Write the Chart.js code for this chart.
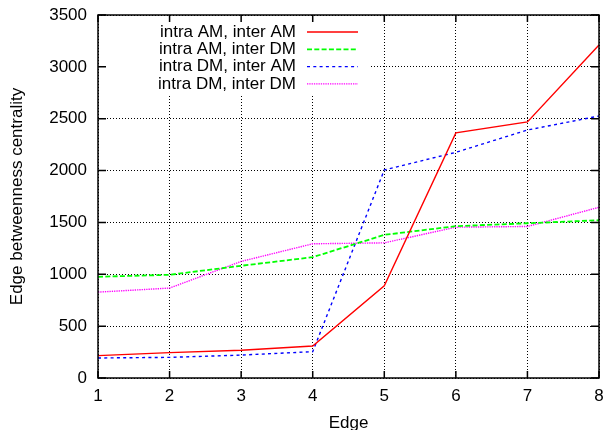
<!DOCTYPE html>
<html>
<head>
<meta charset="utf-8">
<script src="https://cdn.jsdelivr.net/npm/chart.js@4.4.1/dist/chart.umd.min.js"></script>
<style>
  html, body { margin: 0; padding: 0; background: #fff; }
  #wrap { width: 606px; height: 430px; }
</style>
</head>
<body>
<div id="wrap"><canvas id="chart" width="606" height="430"></canvas></div>
<script>
// values
const edges = ["1", "2", "3", "4", "5", "6", "7", "8"];
const seriesNames = ["intra AM, inter AM", "intra AM, inter DM", "intra DM, inter AM", "intra DM, inter DM"];
const amAm = [216, 245, 267, 308, 890, 2363, 2469, 3210];
const amDm = [976, 995, 1082, 1165, 1380, 1464, 1492, 1521];
const dmAm = [193, 199, 221, 254, 2006, 2176, 2391, 2526];
const dmDm = [828, 867, 1124, 1294, 1303, 1454, 1461, 1646];
const yTicks = [0, 500, 1000, 1500, 2000, 2500, 3000, 3500];

const colors = ["#ff0000", "#00ff00", "#0000ff", "#ff00ff"];
const dashes = [[], [5, 2.3], [3, 3.3], [1.3, 1]];
const widths = [1.4, 1.8, 1.4, 1.4];
const FONT = "Liberation Sans, Arial, Helvetica, sans-serif";

// gnuplot-like frame, inward ticks and the key drawn in the upper left
const gnuplotLook = {
  id: "gnuplotLook",
  beforeDatasetsDraw(chart) {
    const { ctx, chartArea: a } = chart;
    // key background hides the grid behind it
    ctx.save();
    ctx.fillStyle = "#fff";
    ctx.fillRect(a.left + 1, a.top + 1, 368 - a.left, 93 - a.top);
    ctx.restore();
  },
  afterDatasetsDraw(chart) {
    const { ctx, chartArea: a, scales } = chart;
    ctx.save();
    ctx.strokeStyle = "#000";
    ctx.lineWidth = 1.5;
    ctx.beginPath();
    edges.forEach((e, i) => {
      const x = scales.x.getPixelForValue(i);
      ctx.moveTo(x, a.bottom); ctx.lineTo(x, a.bottom - 7);
      ctx.moveTo(x, a.top); ctx.lineTo(x, a.top + 7);
    });
    yTicks.forEach(v => {
      const y = scales.y.getPixelForValue(v);
      ctx.moveTo(a.left, y); ctx.lineTo(a.left + 8, y);
      ctx.moveTo(a.right, y); ctx.lineTo(a.right - 8, y);
    });
    ctx.stroke();
    ctx.strokeRect(a.left, a.top, a.right - a.left, a.bottom - a.top);

    // key
    ctx.font = "17px " + FONT;
    ctx.textAlign = "right";
    ctx.textBaseline = "middle";
    chart.data.datasets.forEach((ds, i) => {
      const y = 32 + i * 17.3;
      ctx.fillStyle = "#000";
      ctx.fillText(ds.label, 296, y);
      ctx.strokeStyle = ds.borderColor;
      ctx.lineWidth = ds.borderWidth;
      ctx.setLineDash(ds.borderDash);
      ctx.beginPath();
      ctx.moveTo(307, y); ctx.lineTo(358, y);
      ctx.stroke();
    });
    ctx.restore();
  }
};

const allSeries = [amAm, amDm, dmAm, dmDm];

new Chart(document.getElementById("chart"), {
  type: "line",
  data: {
    labels: edges,
    datasets: allSeries.map((vals, i) => ({
      label: seriesNames[i],
      data: vals,
      borderColor: colors[i],
      borderWidth: widths[i],
      borderDash: dashes[i],
      pointRadius: 0,
      fill: false,
      tension: 0
    }))
  },
  options: {
    responsive: false,
    animation: false,
    layout: { padding: { top: 15, right: 7, left: 0, bottom: 0 } },
    plugins: { legend: { display: false }, tooltip: { enabled: false } },
    scales: {
      x: {
        offset: false,
        afterFit: s => { s.height = 52; s.paddingLeft = 0; s.paddingRight = 0; },
        grid: { color: "#000", lineWidth: 1, drawTicks: false },
        border: { display: false, dash: [1, 2] },
        ticks: { color: "#000", font: { family: FONT, size: 17 }, padding: 8, maxRotation: 0 },
        title: { display: true, text: "Edge", color: "#000",
                 font: { family: FONT, size: 17, lineHeight: 0.8 }, padding: 0 }
      },
      y: {
        min: 0, max: 3500,
        afterFit: s => { s.width = 98; s.paddingTop = 0; s.paddingBottom = 0; },
        afterBuildTicks: s => { s.ticks = yTicks.map(v => ({ value: v })); },
        grid: { color: "#000", lineWidth: 1, drawTicks: false },
        border: { display: false, dash: [1, 2] },
        ticks: { color: "#000", font: { family: FONT, size: 17 }, padding: 11,
                 callback: v => String(v) },
        title: { display: true, text: "Edge betweenness centrality", color: "#000",
                 font: { family: FONT, size: 17 }, padding: { top: 7, bottom: 0 } }
      }
    }
  },
  plugins: [gnuplotLook]
});
</script>
</body>
</html>
